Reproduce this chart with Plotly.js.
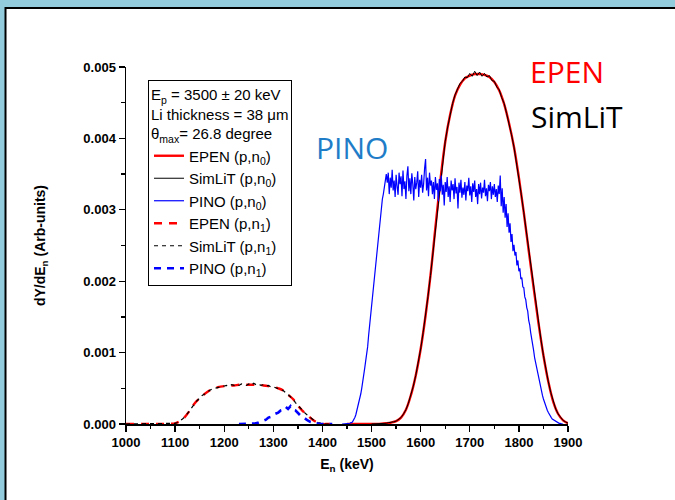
<!DOCTYPE html>
<html>
<head>
<meta charset="utf-8">
<script src="https://cdn.plot.ly/plotly-3.0.1.min.js"></script>
<style>html,body{margin:0;padding:0;background:#93CDDD;}#chart{width:675px;height:500px;}</style>
</head>
<body>
<div id="chart"></div>
<script>
// ---------- data ----------
const xTicks = [1000, 1100, 1200, 1300, 1400, 1500, 1600, 1700, 1800, 1900];
const yTicks = [0.000, 0.001, 0.002, 0.003, 0.004, 0.005];

// EPEN (p,n0): red solid, 10 keV steps
const epenN0X = [1450,1460,1470,1480,1490,1500,1510,1520,1530,1540,1550,1560,1570,1580,1590,1600,1610,1620,1630,1640,1650,1660,1670,1680,1690,1700,1710,1720,1730,1740,1750,1760,1770,1780,1790,1800,1810,1820,1830,1840,1850,1860,1870,1880,1890,1900];
const epenN0Y = [0,0,0,0,0,0,0,0.000003,0.00001,0.00002,0.00004,0.00009,0.0002,0.0004,0.00068,0.00105,0.00152,0.00208,0.00275,0.0034,0.00395,0.00433,0.0046,0.00475,0.00484,0.00488,0.0049,0.0049,0.00489,0.00486,0.00479,0.00467,0.00448,0.00421,0.00388,0.00345,0.00296,0.00243,0.00191,0.00141,0.00096,0.00059,0.00031,0.00014,0.00005,0.00001];

// SimLiT (p,n0): black solid, 5 keV steps from 1500
const simN0Start = 1500, simN0Step = 5;
const simN0Y = [
 0,0,0,0,0,0.00001,0.00001,0.00002,0.00002,0.00003,            // 1500-1545
 0.00004,0.00006,0.00009,0.00014,0.0002,0.00029,0.0004,0.00053,0.00068,0.00086, // 1550-1595
 0.00105,0.00128,0.00152,0.00179,0.00208,0.0024,0.00275,0.00308,0.0034,0.0037,  // 1600-1645
 0.00396,0.00416,0.00434,0.00449,0.00461,0.00469,0.00477,0.0048,0.00486,0.00485, // 1650-1695
 0.00491,0.00487,0.00494,0.00488,0.00493,0.00487,0.00491,0.00486,0.00488,0.00481, // 1700-1745
 0.0048,0.00472,0.00468,0.00457,0.00449,0.00435,0.00421,0.00405,0.00388,0.00367, // 1750-1795
 0.00345,0.00321,0.00296,0.0027,0.00243,0.00217,0.00191,0.00166,0.00141,0.00118, // 1800-1845
 0.00096,0.00076,0.00059,0.00044,0.00031,0.00021,0.00014,0.00009,0.00005,0.00003, // 1850-1895
 0.00001                                                                           // 1900
];

// PINO (p,n0): blue solid, 2 keV steps from 1440
const pinoN0Start = 1440, pinoN0Step = 2;
const pinoN0Y = [
 0,0,0,0,0,0,0.00001,0.00001,0.00001,0.00002,                                   // 1440-1458
 0.00002,0.00004,0.00006,0.00009,0.00013,0.00018,0.00023,0.00029,0.00035,0.00042, // 1460-1478
 0.0005,0.00058,0.00068,0.00078,0.00088,0.00097,0.00108,0.00124,0.00138,0.00152,  // 1480-1498
 0.00166,0.00178,0.00193,0.00208,0.00222,0.00238,0.00251,0.00266,0.00281,0.00294, // 1500-1518
 0.00303,0.00315,0.00322,0.00333,0.00341,0.0035,                                   // 1520-1530
 0.00338,0.00352,0.00322,0.00345,0.00331,0.00356,0.00327,0.00341,0.00318,0.00349, // 1532-1550
 0.00333,0.00321,0.00352,0.00336,0.00347,0.00319,0.00355,0.00329,0.0034,0.00315,  // 1552-1570
 0.00348,0.00361,0.00326,0.00344,0.00322,0.00351,0.00336,0.00313,0.00346,0.00329, // 1572-1590
 0.00338,0.00354,0.00318,0.00342,0.00331,0.00349,0.00324,0.00336,0.00358,0.00371, // 1592-1610
 0.00327,0.00345,0.00319,0.00352,0.00334,0.00341,0.00322,0.00339,0.00315,0.00346, // 1612-1630
 0.00328,0.00337,0.00312,0.00343,0.00326,0.00348,0.00321,0.00335,0.00306,0.00339, // 1632-1650
 0.00325,0.00346,0.00318,0.00333,0.00311,0.00341,0.00327,0.00336,0.00315,0.00344, // 1652-1670
 0.00323,0.00332,0.00302,0.00338,0.00324,0.00342,0.00317,0.00331,0.00321,0.00339, // 1672-1690
 0.00313,0.00334,0.00326,0.00345,0.0032,0.00333,0.00311,0.00337,0.00325,0.00341,  // 1692-1710
 0.00318,0.00329,0.00308,0.00336,0.00322,0.00338,0.00316,0.00331,0.00324,0.00342, // 1712-1730
 0.00319,0.0033,0.00312,0.00335,0.00326,0.00339,0.00315,0.00333,0.00321,0.00336,  // 1732-1750
 0.00318,0.00329,0.00311,0.00334,0.00322,0.00348,0.00305,0.0033,0.00296,0.00318,  // 1752-1770
 0.00289,0.00308,0.00276,0.00295,0.00268,0.00281,0.00255,0.00266,0.00242,0.00251, // 1772-1790
 0.00236,0.00241,0.00222,0.00229,0.00214,0.00218,0.00203,0.00205,0.00192,0.00191, // 1792-1810
 0.00178,0.00174,0.00163,0.00158,0.00145,0.00139,0.00128,0.00121,0.0011,0.00103,  // 1812-1830
 0.00093,0.00086,0.00078,0.00071,0.00064,0.00058,0.00051,0.00045,0.0004,0.00035,  // 1832-1850
 0.0003,0.00026,0.00022,0.00019,0.00016,0.00013,0.00011,0.00009,0.00007,0.00006,  // 1852-1870
 0.00005,0.00004,0.00003,0.00002,0.00002,0.00001,0.00001,0,0,0                     // 1872-1890
];

// EPEN (p,n1): red dashed, 10 keV steps
const epenN1X = [1000,1010,1020,1030,1040,1050,1060,1070,1080,1090,1100,1110,1120,1130,1140,1150,1160,1170,1180,1190,1200,1210,1220,1230,1240,1250,1260,1270,1280,1290,1300,1310,1320,1330,1340,1350,1360,1370,1380,1390,1400,1410,1420];
const epenN1Y = [0,0,0,0,0,0,0,0,0,0.000003,0.00001,0.00004,0.0001,0.00019,0.00029,0.00036,0.00042,0.00047,0.0005,0.00052,0.00053,0.00054,0.00054,0.00055,0.00055,0.00055,0.00055,0.00055,0.00054,0.00053,0.00052,0.0005,0.00047,0.00041,0.00035,0.00026,0.00018,0.00012,0.00006,0.00002,0,0,0];

// SimLiT (p,n1): black dashed, 5 keV steps from 1000
const simN1Start = 1000, simN1Step = 5;
const simN1Y = [
 0,0,0,0,0,0,0,0,0,0,                                                           // 1000-1045
 0,0,0,0,0,0,0,0,0.000002,0.000004,                                              // 1050-1095
 0.00001,0.00002,0.00004,0.00007,0.0001,0.00014,0.00019,0.00024,0.00029,0.00033, // 1100-1145
 0.00036,0.0004,0.00042,0.00045,0.00047,0.00049,0.0005,0.00051,0.00052,0.00053,  // 1150-1195
 0.00053,0.00054,0.00053,0.00055,0.00054,0.00055,0.00054,0.00056,0.00055,0.00054,// 1200-1245
 0.00056,0.00054,0.00057,0.00055,0.00056,0.00054,0.00055,0.00053,0.00054,0.00052,// 1250-1295
 0.00052,0.00051,0.0005,0.00048,0.00047,0.00044,0.00041,0.00038,0.00035,0.0003,  // 1300-1345
 0.00026,0.00022,0.00018,0.00015,0.00012,0.00009,0.00006,0.00004,0.00002,0.00001,// 1350-1395
 0,0,0,0,0                                                                        // 1400-1420
];

// PINO (p,n1): blue dashed, 5 keV steps from 1230
const pinoN1Start = 1230, pinoN1Step = 5;
const pinoN1Y = [
 0,0,0,0,0,0,0.00001,0.00001,0.00002,0.00003,          // 1230-1275
 0.00005,0.00006,0.00009,0.0001,0.00013,0.00014,0.00016,0.00019,0.0002,0.00024, // 1280-1325
 0.00021,0.00025,0.0002,0.00019,0.00015,0.00012,0.0001,0.00007,0.00005,0.00003, // 1330-1375
 0.00002,0.00001,0,0,0,0,0,0,0                           // 1380-1420
];

const legendHeader = 'E<sub>p</sub> = 3500 \u00B1 20 keV<br>Li thickness = 38 \u03BCm<br>\u03B8<sub>max</sub>= 26.8 degree';

// ---------- traces ----------
const traces = [
  {x: epenN0X, y: epenN0Y, name: 'EPEN (p,n<sub>0</sub>)', mode: 'lines', line: {color: '#FF0000', width: 2.4, shape: 'spline'}},
  {x0: simN0Start, dx: simN0Step, y: simN0Y, name: 'SimLiT (p,n<sub>0</sub>)', mode: 'lines', line: {color: '#000000', width: 1}},
  {x0: pinoN0Start, dx: pinoN0Step, y: pinoN0Y, name: 'PINO (p,n<sub>0</sub>)', mode: 'lines', line: {color: '#0000FF', width: 1.2}},
  {x: epenN1X, y: epenN1Y, name: 'EPEN (p,n<sub>1</sub>)', mode: 'lines', line: {color: '#FF0000', width: 2.4, dash: '8px,7px', shape: 'spline'}},
  {x0: simN1Start, dx: simN1Step, y: simN1Y, name: 'SimLiT (p,n<sub>1</sub>)', mode: 'lines', line: {color: '#000000', width: 1.2, dash: '4px,4px'}},
  {x0: pinoN1Start, dx: pinoN1Step, y: pinoN1Y, name: 'PINO (p,n<sub>1</sub>)', mode: 'lines', line: {color: '#0000FF', width: 2.6, dash: '7px,6px'}}
];

const tickFont = {family: 'Liberation Sans, Arial, sans-serif', size: 13, color: '#000', weight: 'bold'};

const layout = {
  width: 675, height: 500,
  margin: {l: 126, r: 107, t: 67, b: 76, pad: 0},
  paper_bgcolor: '#93CDDD',
  plot_bgcolor: 'rgba(0,0,0,0)',
  showlegend: true,
  hovermode: false,
  font: {family: 'Liberation Sans, Arial, sans-serif', color: '#000'},
  xaxis: {
    range: [1000, 1900], tickvals: xTicks, ticktext: xTicks.map(String),
    ticks: 'outside', ticklen: 6, tickwidth: 1.3, tickcolor: '#000',
    minor: {dtick: 50, tick0: 1000, ticks: 'outside', ticklen: 3.5, tickwidth: 1.3, tickcolor: '#000', showgrid: false},
    showline: true, linewidth: 1.5, linecolor: '#000', showgrid: false, zeroline: false,
    tickfont: tickFont,
    title: {text: '<b>E<sub>n</sub> (keV)</b>', font: {family: 'Liberation Sans, Arial, sans-serif', size: 14, color: '#000'}, standoff: 10}
  },
  yaxis: {
    range: [0, 0.005], tickvals: yTicks, ticktext: yTicks.map(v => v.toFixed(3)),
    ticks: 'outside', ticklen: 6, tickwidth: 1.3, tickcolor: '#000',
    minor: {dtick: 0.0005, tick0: 0, ticks: 'outside', ticklen: 3.5, tickwidth: 1.3, tickcolor: '#000', showgrid: false},
    showline: true, linewidth: 1.5, linecolor: '#000', showgrid: false, zeroline: false,
    tickfont: tickFont,
    title: {text: '<b>dY/dE<sub>n</sub> (Arb-units)</b>', font: {family: 'Liberation Sans, Arial, sans-serif', size: 14, color: '#000'}, standoff: 34}
  },
  legend: {
    x: 0.0498, y: 0.9636, xanchor: 'left', yanchor: 'top',
    bgcolor: '#FFFFFF', bordercolor: '#000', borderwidth: 1,
    font: {family: 'Liberation Sans, Arial, sans-serif', size: 15, color: '#000'},
    title: {text: legendHeader, font: {family: 'Liberation Sans, Arial, sans-serif', size: 15, color: '#000'}},
    itemwidth: 30, tracegroupgap: 0
  },
  shapes: [
    {type: 'rect', xref: 'paper', yref: 'paper', x0: -0.2726, x1: 1.30, y0: -0.30, y1: 1.1653,
     fillcolor: '#FFFFFF', line: {color: '#000', width: 2}, layer: 'below'}
  ],
  annotations: [
    {xref: 'paper', yref: 'paper', x: 0.9977, y: 0.986, text: 'EPEN', showarrow: false, xanchor: 'center', yanchor: 'middle',
     font: {family: 'Open Sans, sans-serif', size: 30, color: '#FF0000'}},
    {xref: 'paper', yref: 'paper', x: 1.0204, y: 0.86, text: 'SimLiT', showarrow: false, xanchor: 'center', yanchor: 'middle',
     font: {family: 'Open Sans, sans-serif', size: 30, color: '#000000'}},
    {xref: 'paper', yref: 'paper', x: 0.5113, y: 0.7745, text: 'PINO', showarrow: false, xanchor: 'center', yanchor: 'middle',
     font: {family: 'Open Sans, sans-serif', size: 30, color: '#1F7DC8'}}
  ]
};

Plotly.newPlot('chart', traces, layout, {displayModeBar: false, staticPlot: true});
</script>
</body>
</html>
